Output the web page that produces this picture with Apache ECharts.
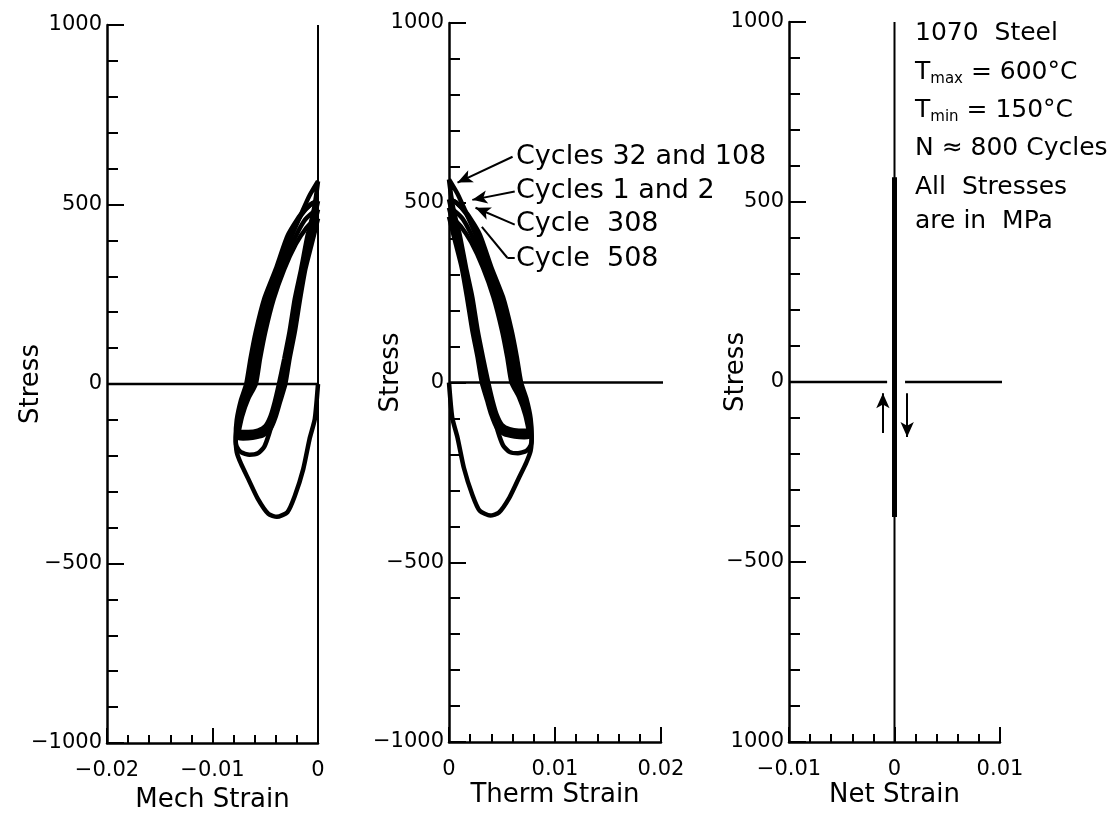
<!DOCTYPE html>
<html><head><meta charset="utf-8">
<script src="https://cdn.jsdelivr.net/npm/echarts@6/dist/echarts.min.js"></script>
<style>html,body{margin:0;padding:0;background:#fff}#c{width:1119px;height:814px}</style>
</head><body><div id="c"></div>
<script>
// ---------- data (mechanical strain, stress in MPa) ----------
// Net strain is zero, so thermal strain = -mechanical strain (middle panel is the mirror image).
const yTicks = [-1000, -500, 0, 500, 1000];
const yLabelsLeft = ['\u22121000', '\u2212500', '0', '500', '1000'];
const yLabelsMid = ['\u22121000', '\u2212500', '0', '500', '1000'];
const yLabelsRight = ['1000', '\u2212500', '0', '500', '1000']; // as printed in the figure
const xTicksMech = [-0.02, -0.01, 0];
const xLabelsMech = ['\u22120.02', '\u22120.01', '0'];
const xTicksTherm = [0, 0.01, 0.02];
const xLabelsTherm = ['0', '0.01', '0.02'];
const xTicksNet = [-0.01, 0, 0.01];
const xLabelsNet = ['\u22120.01', '0', '0.01'];

const cycle1 = [[0,0],[-0.0003,-97],[-0.0008,-153],[-0.0014,-237],[-0.0022,-312],[-0.0029,-357],[-0.0039,-370],
  [-0.0047,-362],[-0.0057,-320],[-0.0066,-265],[-0.0073,-222],[-0.0077,-190],
  [-0.0078,-150],[-0.0077,-100],[-0.0073,-45],[-0.0068,0],[-0.0064,70],[-0.0059,145],[-0.0051,237],
  [-0.0040,320],[-0.0029,412],[-0.0017,470],[-0.0007,500],[0,510]];
const cycle2 = [[0,510],[-0.0003,470],[-0.0008,412],[-0.0014,320],[-0.0019,237],[-0.0024,145],[-0.0029,70],
  [-0.0034,0],[-0.0038,-50],[-0.0042,-90],[-0.0046,-135],[-0.0051,-175],[-0.0057,-193],[-0.0065,-197],
  [-0.0073,-190],[-0.0077,-175],[-0.0078,-160],[-0.0076,-100],[-0.0072,-45],[-0.0066,0],[-0.0062,70],
  [-0.0057,145],[-0.0049,237],[-0.0038,320],[-0.0027,412],[-0.0016,470],[-0.0007,500],[0,510]];
const cycles32and108 = [[0,565],[-0.0002,520],[-0.0005,470],[-0.0010,412],[-0.0016,320],[-0.0022,237],
  [-0.0027,145],[-0.0032,70],[-0.0037,0],[-0.0041,-50],[-0.0045,-90],[-0.0050,-118],[-0.0057,-130],
  [-0.0066,-134],[-0.0073,-134],[-0.0077,-133],[-0.0074,-90],[-0.0069,-40],[-0.0063,0],[-0.0059,70],
  [-0.0054,145],[-0.0046,237],[-0.0036,320],[-0.0025,412],[-0.0015,480],[-0.0008,525],[0,565]];
const cycle308 = [[0,486],[-0.0003,450],[-0.0007,400],[-0.0013,320],[-0.0018,237],[-0.0023,145],
  [-0.0028,70],[-0.0033,0],[-0.0037,-50],[-0.0041,-90],[-0.0046,-120],[-0.0053,-135],[-0.0063,-142],
  [-0.0072,-143],[-0.0076,-140],[-0.0073,-90],[-0.0067,-40],[-0.0061,0],[-0.0057,70],[-0.0052,145],
  [-0.0044,237],[-0.0034,320],[-0.0023,400],[-0.0013,455],[-0.0005,478],[0,486]];
const cycle508 = [[0,461],[-0.0003,425],[-0.0006,390],[-0.0012,320],[-0.0017,237],[-0.0022,145],
  [-0.0027,70],[-0.0031,0],[-0.0036,-50],[-0.0040,-90],[-0.0045,-125],[-0.0052,-143],[-0.0062,-150],
  [-0.0071,-152],[-0.0076,-150],[-0.0072,-90],[-0.0066,-40],[-0.0059,0],[-0.0055,70],[-0.0050,145],
  [-0.0042,237],[-0.0032,320],[-0.0021,390],[-0.0011,435],[-0.0004,455],[0,461]];
const loops = [cycle1, cycle2, cycles32and108, cycle308, cycle508];

const zeroMech = [[-0.02,0],[0,0]];
const mechZeroVertical = [[0,-1000],[0,1000]];
const zeroTherm = [[0,0],[0.0207,0]];
const zeroNetLeft = [[-0.01,0],[-0.0007,0]];
const zeroNetRight = [[0.001,0],[0.0103,0]];
const netStrainThin = [[0,-1000],[0,1000]];
const netStrainThick = [[0,569],[0,-375]];
const netArrowUp = [[-0.0011,-142],[-0.0011,-31]];
const netArrowDown = [[0.0012,-31],[0.0012,-153]];

// Leader lines in the thermal-strain panel: [start, end]
const leader32and108 = [[0.0060,628],[0.0008,556]];
const leader1and2 = [[0.0062,531],[0.0022,508]];
const leader308 = [[0.0062,439],[0.0025,486]];
const leader508a = [[0.0062,347],[0.0055,347]];
const leader508b = [[0.0055,347],[0.0031,433]];

const cycleLabels = ['Cycles 32 and 108', 'Cycles 1 and 2', 'Cycle  308', 'Cycle  508'];
const infoLines = ['1070  Steel', 'Tmax', 'Tmin', 'N \u2248 800 Cycles', 'All  Stresses', 'are in  MPa'];

// ---------- chart ----------
const FONT = 'DejaVu Sans';
const BLACK = '#000';
const lab = (ticks, labels) => v => {
  const i = ticks.findIndex(t => Math.abs(t - v) < 1e-9);
  return i < 0 ? '' : labels[i];
};

function yAxis(gi, labels, gap, pad) {
  return {
    type: 'value', gridIndex: gi, min: -1000, max: 1000, interval: 500,
    name: 'Stress', nameLocation: 'middle', nameGap: gap, nameRotate: 90, nameMoveOverlap: false,
    nameTextStyle: { fontSize: 26, color: BLACK, fontFamily: FONT, padding: pad },
    axisLine: { show: true, onZero: false, lineStyle: { color: BLACK, width: 2.5 } },
    axisTick: { show: true, inside: true, length: 17, lineStyle: { color: BLACK, width: 2 } },
    minorTick: { show: true, splitNumber: 5, length: 11, lineStyle: { color: BLACK, width: 2 } },
    splitLine: { show: false }, minorSplitLine: { show: false },
    axisLabel: { formatter: lab(yTicks, labels), fontSize: 21, color: BLACK, margin: 5, fontFamily: FONT }
  };
}
function xAxis(gi, min, max, ticks, labels, name, gap) {
  return {
    type: 'value', gridIndex: gi, min, max, interval: 0.01,
    name, nameLocation: 'middle', nameGap: gap, nameMoveOverlap: false,
    nameTextStyle: { fontSize: 26, color: BLACK, fontFamily: FONT },
    axisLine: { show: true, onZero: false, lineStyle: { color: BLACK, width: 2.5 } },
    axisTick: { show: true, inside: true, length: 15, lineStyle: { color: BLACK, width: 2 } },
    minorTick: { show: true, splitNumber: 5, length: 8, lineStyle: { color: BLACK, width: 2 } },
    splitLine: { show: false }, minorSplitLine: { show: false },
    axisLabel: { formatter: lab(ticks, labels), fontSize: 21, color: BLACK, margin: 17, fontFamily: FONT, showMinLabel: true, showMaxLabel: true }
  };
}
function line(gi, data, width, extra) {
  return Object.assign({
    type: 'line', xAxisIndex: gi, yAxisIndex: gi, data, showSymbol: false, symbol: 'none',
    lineStyle: { color: BLACK, width }, clip: false, silent: true, smooth: 0.2
  }, extra || {});
}
function ml(pairs, arrow) {
  return pairs.map(p => [
    { coord: p[0], symbol: 'none' },
    { coord: p[1], symbol: arrow ? 'arrow' : 'none', symbolSize: [10, 15] }
  ]);
}

const series = [];
// left: mechanical strain
series.push(line(0, zeroMech, 2.5, { smooth: false }));
series.push(line(0, mechZeroVertical, 2, { smooth: false }));
loops.forEach(l => series.push(line(0, l, 4.5)));
// middle: thermal strain (mirror)
series.push(line(1, zeroTherm, 2.5, {
  smooth: false,
  markLine: {
    silent: true, animation: false, label: { show: false },
    lineStyle: { color: BLACK, width: 2, type: 'solid' },
    data: ml([leader32and108, leader1and2, leader308], true).concat(ml([leader508a, leader508b], false))
  }
}));
loops.forEach(l => series.push(line(1, l.map(p => [-p[0], p[1]]), 4.5)));
// right: net strain
series.push(line(2, zeroNetLeft, 2.5, { smooth: false }));
series.push(line(2, zeroNetRight, 2.5, { smooth: false }));
series.push(line(2, netStrainThin, 2, { smooth: false }));
series.push(line(2, netStrainThick, 5, {
  smooth: false,
  markLine: {
    silent: true, animation: false, label: { show: false },
    lineStyle: { color: BLACK, width: 2, type: 'solid' },
    data: ml([netArrowUp, netArrowDown], true)
  }
}));

const txt = (x, y, text, size, rich) => ({
  type: 'text', x, y, silent: true,
  style: { text, fill: BLACK, fontSize: size, fontFamily: FONT, verticalAlign: 'middle', align: 'left', rich }
});
const subRich = {
  m: { fontSize: 25, fontFamily: FONT, lineHeight: 30, fill: BLACK },
  s: { fontSize: 15, fontFamily: FONT, lineHeight: 12, verticalAlign: 'bottom', fill: BLACK }
};

const graphic = [
  txt(516, 157, cycleLabels[0], 27),
  txt(516, 191, cycleLabels[1], 27),
  txt(516, 224, cycleLabels[2], 27),
  txt(516, 259, cycleLabels[3], 27),
  txt(915, 33, infoLines[0], 25),
  txt(915, 72, '{m|T}{s|max}{m| = 600°C}', 25, subRich),
  txt(915, 110, '{m|T}{s|min}{m| = 150°C}', 25, subRich),
  txt(915, 148, infoLines[3], 25),
  txt(915, 187, infoLines[4], 25),
  txt(915, 221, infoLines[5], 25)
];

const chart = echarts.init(document.getElementById('c'), null, { renderer: 'canvas' });
chart.setOption({
  animation: false,
  backgroundColor: '#fff',
  grid: [
    { left: 107, top: 25, width: 211, height: 718, outerBoundsMode: 'none', containLabel: false },
    { left: 449, top: 23, width: 212, height: 719, outerBoundsMode: 'none', containLabel: false },
    { left: 789, top: 22, width: 211, height: 720, outerBoundsMode: 'none', containLabel: false }
  ],
  xAxis: [
    xAxis(0, -0.02, 0, xTicksMech, xLabelsMech, 'Mech Strain', 44),
    xAxis(1, 0, 0.02, xTicksTherm, xLabelsTherm, 'Therm Strain', 40),
    xAxis(2, -0.01, 0.01, xTicksNet, xLabelsNet, 'Net Strain', 40)
  ],
  yAxis: [
    yAxis(0, yLabelsLeft, 63, [0, 0, 0, 0]),
    yAxis(1, yLabelsMid, 45, [0, 0, 0, 20]),
    yAxis(2, yLabelsRight, 40, [0, 0, 0, 20])
  ],
  series,
  graphic
});
</script></body></html>
